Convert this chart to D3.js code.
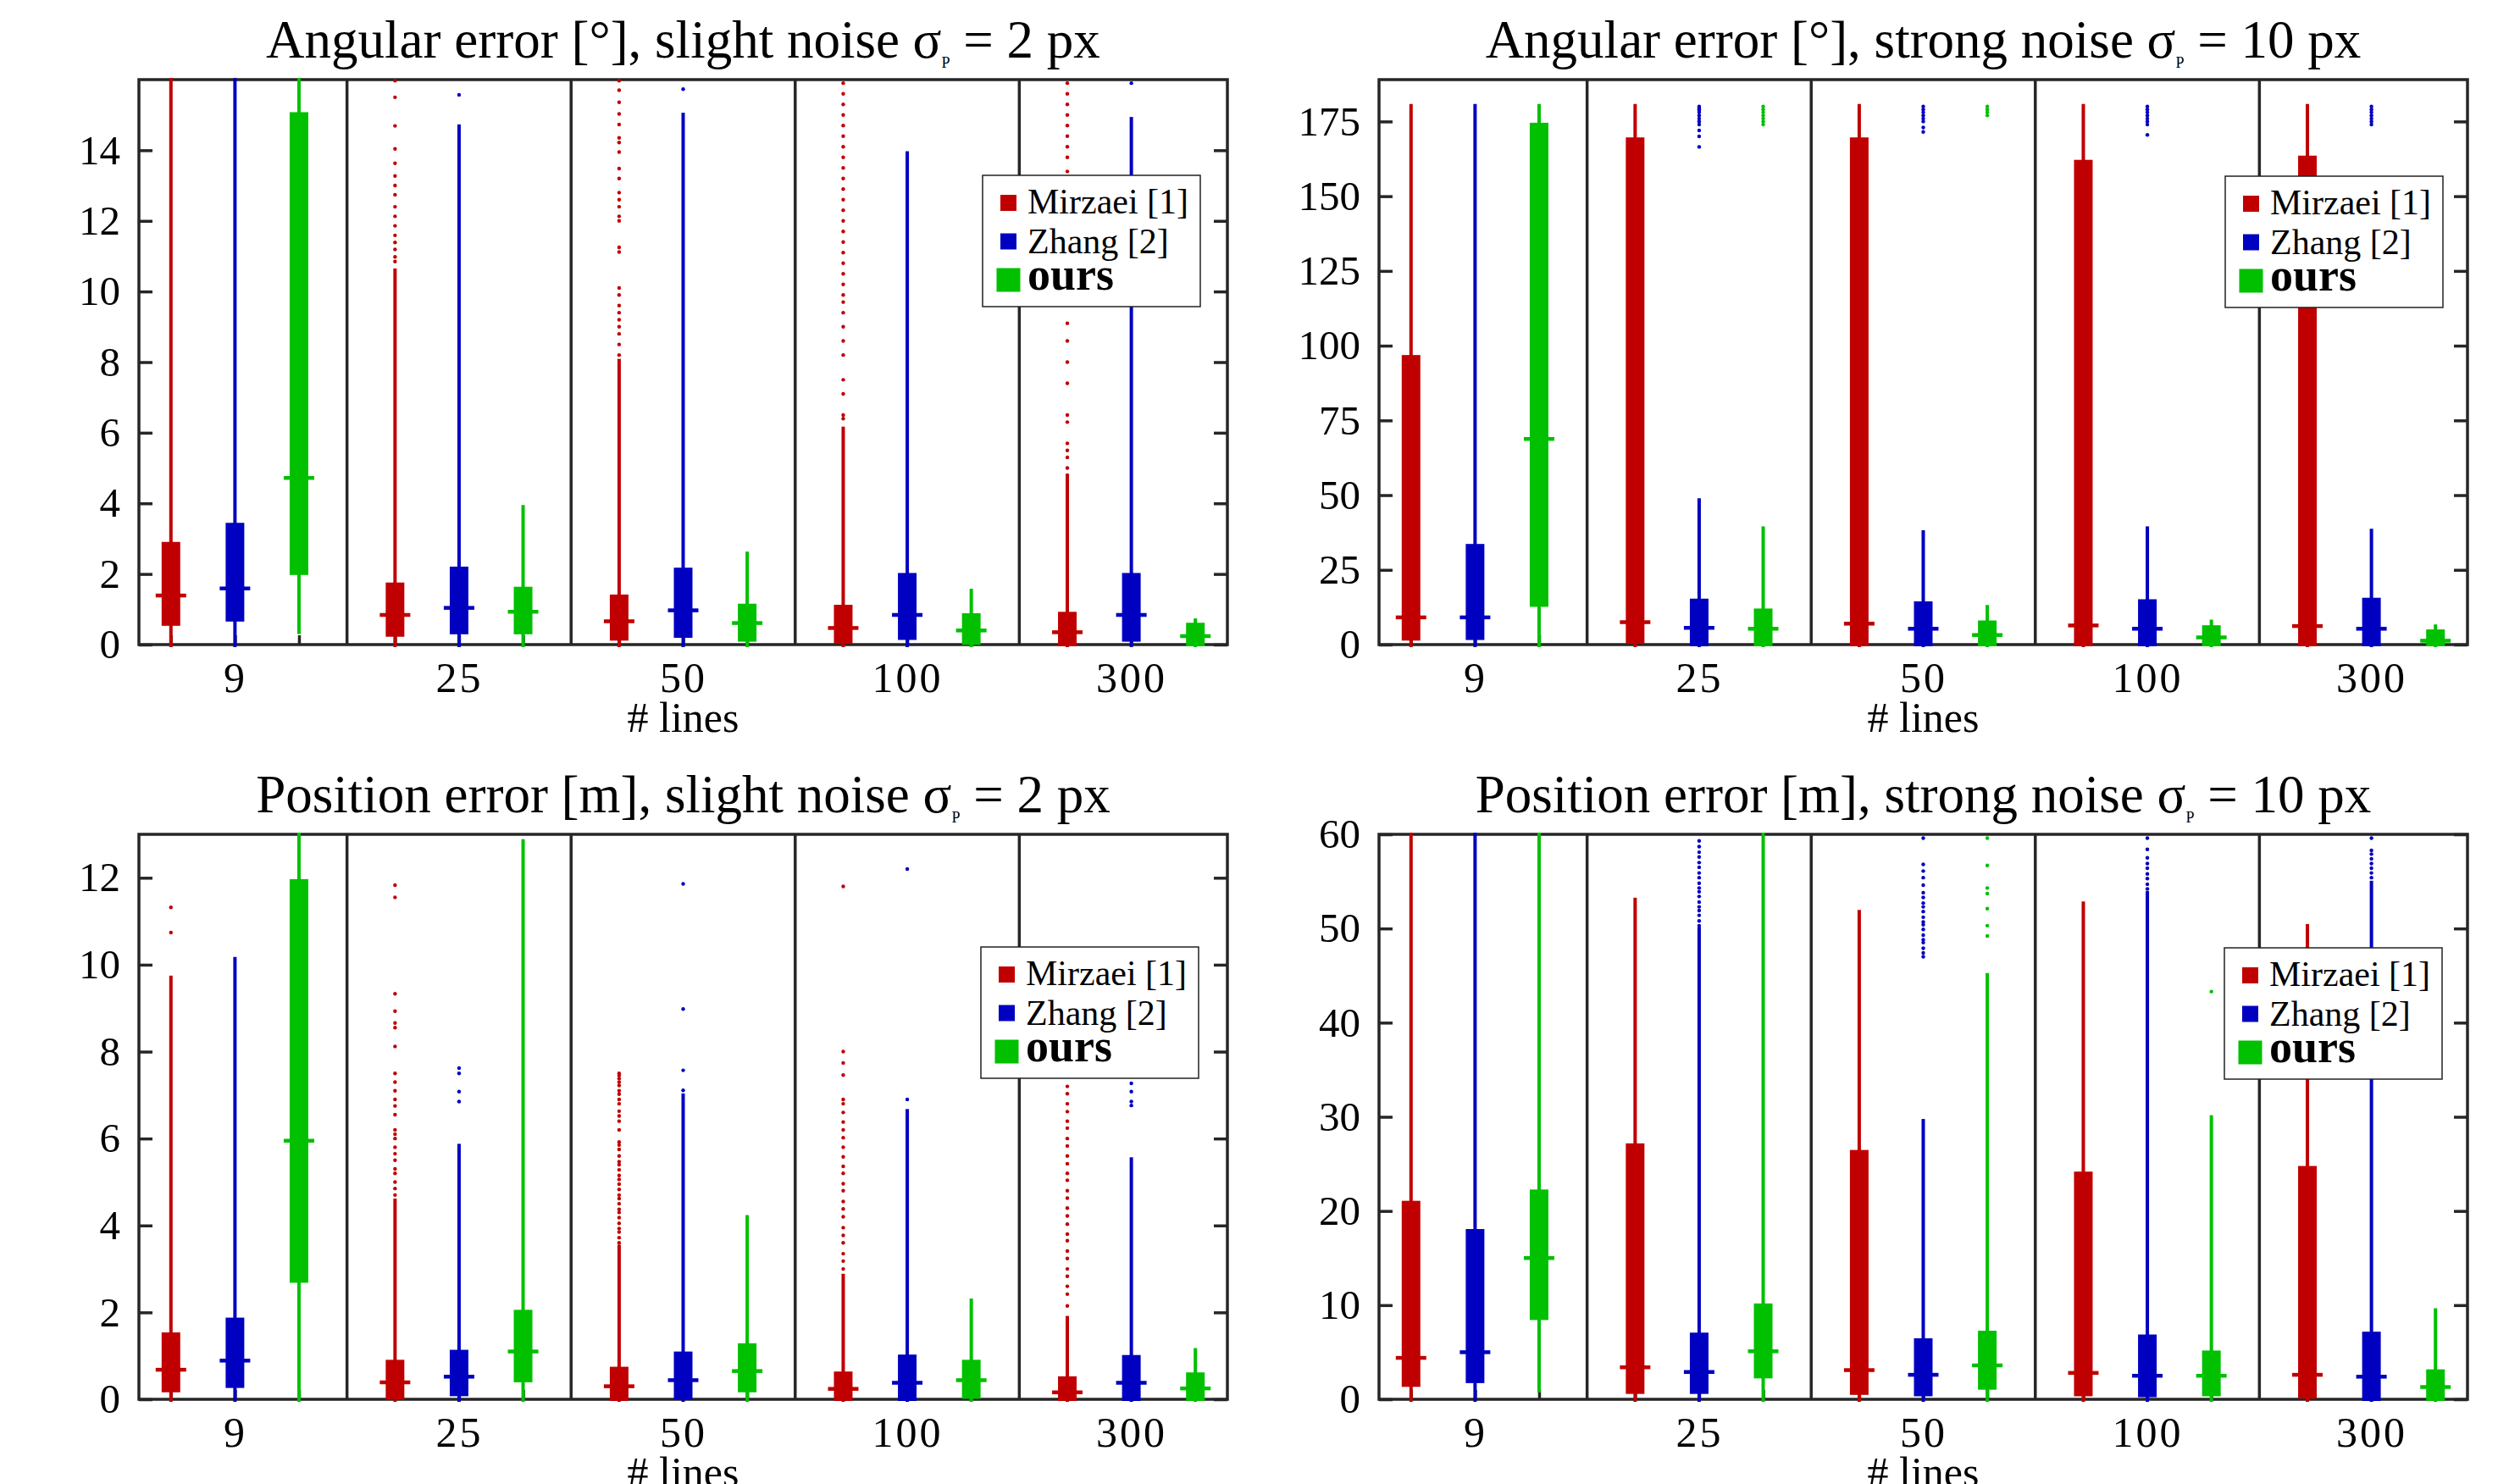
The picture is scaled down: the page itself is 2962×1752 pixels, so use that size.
<!DOCTYPE html>
<html><head><meta charset="utf-8">
<script src="https://cdn.jsdelivr.net/npm/d3@7"></script>
<style>html,body{margin:0;padding:0;background:#fff;} svg{display:block;}</style>
</head><body>
<script>
// ---------------- DATA ----------------
const groupLabels = ["9", "25", "50", "100", "300"];
const methodNames = ["Mirzaei [1]", "Zhang [2]", "ours"];

// each entry: [lower whisker, q1, median, q3, upper whisker] for groups 9,25,50,100,300
const angSlightMirzaei = [[0, 0.58, 1.39, 2.86, 20], [0, 0.27, 0.84, 1.71, 10.58], [0, 0.16, 0.66, 1.37, 8.02], [0, 0.07, 0.47, 1.08, 6.1], [0, 0.0, 0.35, 0.88, 4.74]];
const angSlightZhang   = [[0, 0.70, 1.59, 3.40, 20], [0, 0.34, 1.04, 2.16, 14.66], [0, 0.24, 0.97, 2.13, 14.99], [0, 0.18, 0.84, 1.98, 13.9], [0, 0.13, 0.84, 1.98, 14.87]];
const angSlightOurs    = [[0.37, 2.02, 4.72, 15.03, 20], [0, 0.34, 0.93, 1.59, 3.88], [0, 0.13, 0.61, 1.11, 2.56], [0, 0.04, 0.40, 0.84, 1.51], [0, 0.0, 0.24, 0.57, 0.67]];
const angSlightOutMirzaei = [[], [10.85, 10.98, 11.19, 11.39, 11.59, 11.86, 12.13, 12.4, 12.74, 13.0, 13.27, 13.63, 14.04, 14.69, 15.5, 15.97],
  [8.2, 8.5, 8.8, 9.0, 9.2, 9.4, 9.6, 9.9, 10.1, 11.12, 11.25, 12.0, 12.13, 12.4, 12.6, 12.8, 13.2, 13.48, 13.95, 14.22, 14.35, 14.73, 15.03, 15.36, 15.7, 15.97],
  [6.4, 6.5, 7.1, 7.5, 8.2, 8.6, 9.0, 9.4, 9.7, 9.9, 10.2, 10.5, 10.8, 11.1, 11.4, 11.7, 12.0, 12.3, 12.6, 12.9, 13.2, 13.5, 13.8, 14.1, 14.4, 14.7, 15.0, 15.3, 15.6, 15.9],
  [4.8, 5.0, 5.3, 5.5, 5.7, 6.3, 6.5, 7.4, 8.0, 8.6, 9.1, 10.0, 10.3, 11.0, 11.2, 11.4, 12.3, 12.8, 13.2, 13.4, 13.8, 14.1, 14.4, 14.7, 15.0, 15.3, 15.6, 15.9]];
const angSlightOutZhang = [[], [15.57], [15.73], [], [15.9]];
const angSlightOutOurs = [[], [], [], [], []];
const angSlightTicks = [0, 2, 4, 6, 8, 10, 12, 14];
const angSlightTitle = ["Angular error [°], slight noise σ", "P", " = 2 px"];

const angStrongMirzaei = [[0, 1.9, 9.1, 96.3, 180], [0, 0.8, 7.5, 169.1, 180], [0, 0, 7.0, 169.1, 180], [0, 0, 6.4, 161.6, 180], [0, 0, 6.2, 163, 180]];
const angStrongZhang   = [[0, 2.1, 9.1, 33.1, 180], [0, 0, 5.6, 14.8, 48.1], [0, 0, 5.3, 13.9, 37.4], [0, 0, 5.3, 14.6, 38.7], [0, 0, 5.3, 15.1, 37.9]];
const angStrongOurs    = [[0, 13.2, 68.8, 174, 180], [0, 0, 5.3, 11.5, 38.7], [0, 0, 3.2, 7.5, 12.4], [0, 0, 2.4, 5.9, 7.5], [0, 0, 1.3, 4.5, 5.9]];
const angStrongOutMirzaei = [[], [], [], [], []];
const angStrongOutZhang = [[], [166.5, 170, 172, 174, 175, 176, 177, 178, 178.5, 179, 179.5, 180], [171.5, 173, 175, 176, 177, 178, 179, 180], [170.5, 174, 175, 176, 177, 178, 179, 180], [174, 175, 176, 177, 178, 179, 180]];
const angStrongOutOurs = [[], [174, 175, 176, 177, 178, 179, 180], [177, 178, 179, 180], [], []];
const angStrongTicks = [0, 25, 50, 75, 100, 125, 150, 175];
const angStrongTitle = ["Angular error [°], strong noise σ", "P", " = 10 px"];

const posSlightMirzaei = [[0, 0.20, 0.68, 1.50, 9.69], [0, 0.03, 0.39, 0.87, 4.56], [0, 0, 0.30, 0.71, 3.50], [0, 0, 0.24, 0.60, 2.83], [0, 0, 0.16, 0.49, 1.86]];
const posSlightZhang   = [[0, 0.30, 0.89, 1.84, 10.12], [0, 0.11, 0.52, 1.10, 5.82], [0, 0.03, 0.44, 1.06, 6.98], [0, 0, 0.38, 0.99, 6.62], [0, 0, 0.38, 0.98, 5.51]];
const posSlightOurs    = [[0, 2.72, 5.95, 11.93, 14], [0, 0.43, 1.10, 2.02, 12.83], [0, 0.20, 0.65, 1.25, 4.18], [0, 0.05, 0.44, 0.87, 2.26], [0, 0, 0.25, 0.58, 1.12]];
const posSlightOutMirzaei = [[10.74, 11.32],
  [4.7, 4.85, 5.0, 5.2, 5.3, 5.5, 5.65, 5.8, 6.0, 6.1, 6.2, 6.55, 6.75, 6.9, 7.1, 7.3, 7.5, 8.12, 8.55, 8.66, 8.93, 9.33, 11.55, 11.83],
  [3.6, 3.72, 3.85, 3.93, 4.05, 4.18, 4.3, 4.37, 4.5, 4.62, 4.7, 4.83, 4.95, 5.06, 5.15, 5.28, 5.4, 5.47, 5.6, 5.75, 5.85, 5.92, 6.2, 6.4, 6.52, 6.63, 6.8, 6.9, 7.02, 7.1, 7.22, 7.3, 7.38, 7.45, 7.5],
  [3.0, 3.18, 3.35, 3.6, 3.77, 3.95, 4.2, 4.38, 4.55, 4.8, 4.96, 5.2, 5.36, 5.58, 5.8, 6.02, 6.2, 6.38, 6.6, 6.8, 6.9, 7.46, 7.74, 8.0, 11.8],
  [2.15, 2.42, 2.6, 2.83, 3.0, 3.24, 3.41, 3.65, 3.8, 4.03, 4.22, 4.4, 4.63, 4.8, 5.04, 5.2, 5.42, 5.6, 5.83, 6.0, 6.24, 6.4, 6.62, 6.8, 7.03, 7.2, 7.46]];
const posSlightOutZhang = [[], [6.85, 7.08, 7.50, 7.62], [7.11, 7.57, 8.98, 11.86], [6.9, 12.2], [6.76, 6.85, 7.08, 7.27]];
const posSlightOutOurs = [[], [], [], [], []];
const posSlightTicks = [0, 2, 4, 6, 8, 10, 12];
const posSlightTitle = ["Position error [m], slight noise σ", "P", " = 2 px"];

const posStrongMirzaei = [[0, 1.5, 4.4, 20.9, 70], [0, 0.75, 3.4, 27.0, 53.0], [0, 0.65, 3.1, 26.3, 51.7], [0, 0.5, 2.8, 24.0, 52.6], [0, 0.25, 2.6, 24.6, 50.2]];
const posStrongZhang   = [[0, 1.9, 5.0, 17.9, 70], [0, 0.75, 2.9, 6.9, 49.9], [0, 0.5, 2.6, 6.3, 29.5], [0, 0.4, 2.5, 6.7, 53.7], [0, 0, 2.4, 7.0, 54.8]];
const posStrongOurs    = [[1.0, 8.6, 15.0, 22.1, 70], [0, 2.4, 5.1, 10.0, 70], [0, 1.2, 3.6, 7.1, 45.0], [0, 0.5, 2.5, 5.0, 29.9], [0, 0, 1.3, 3.0, 9.4]];
const posStrongOutMirzaei = [[], [], [], [], []];
const posStrongOutZhang = [[],
  [50.3, 50.8, 51.4, 51.9, 52.3, 52.8, 53.4, 53.9, 54.3, 54.8, 55.4, 55.9, 56.5, 57.0, 57.6, 58.1, 58.7, 59.3],
  [47.0, 47.4, 47.9, 48.5, 48.8, 49.3, 49.9, 50.4, 50.7, 51.2, 51.8, 52.3, 52.7, 53.3, 53.8, 54.6, 55.4, 56.1, 56.8, 59.6],
  [54.2, 54.7, 55.3, 55.8, 56.4, 56.9, 57.5, 58.4, 59.6],
  [55.4, 55.9, 56.4, 56.9, 57.4, 57.9, 58.3, 59.6]];
const posStrongOutOurs = [[], [], [49.2, 50.3, 52.1, 53.7, 54.3, 56.7, 59.6], [43.3], []];
const posStrongTicks = [0, 10, 20, 30, 40, 50, 60];
const posStrongTitle = ["Position error [m], strong noise σ", "P", " = 10 px"];

const xLabel = "# lines";

// ---------------- PANELS ----------------
const panels = [
  {title: angSlightTitle, yMax: 16, ticks: angSlightTicks, stats: [angSlightMirzaei, angSlightZhang, angSlightOurs], out: [angSlightOutMirzaei, angSlightOutZhang, angSlightOutOurs]},
  {title: angStrongTitle, yMax: 189, ticks: angStrongTicks, stats: [angStrongMirzaei, angStrongZhang, angStrongOurs], out: [angStrongOutMirzaei, angStrongOutZhang, angStrongOutOurs]},
  {title: posSlightTitle, yMax: 13, ticks: posSlightTicks, stats: [posSlightMirzaei, posSlightZhang, posSlightOurs], out: [posSlightOutMirzaei, posSlightOutZhang, posSlightOutOurs]},
  {title: posStrongTitle, yMax: 60, ticks: posStrongTicks, stats: [posStrongMirzaei, posStrongZhang, posStrongOurs], out: [posStrongOutMirzaei, posStrongOutZhang, posStrongOutOurs]}
];
const layout = [
  {left: 164, top: 94, right: 1449, bottom: 761, legX: 1160, legY: 207},
  {left: 1628, top: 94, right: 2913, bottom: 761, legX: 2627, legY: 208},
  {left: 164, top: 985, right: 1449, bottom: 1652, legX: 1158, legY: 1118},
  {left: 1628, top: 985, right: 2913, bottom: 1652, legX: 2626, legY: 1119}
];

const W = 2962, H = 1752;
const FONT = "'Liberation Serif','Times New Roman',Times,serif";
const AX = "#262626";
const colors = ["#c00000", "#0000c0", "#00c000"];

const svg = d3.select("body").append("svg").attr("width", W).attr("height", H);
svg.append("rect").attr("width", W).attr("height", H).attr("fill", "#fff");

panels.forEach((p, i) => {
  const L = layout[i];
  const x = d3.scaleLinear().domain([-0.5, 16.5]).range([L.left, L.right]);
  const y = d3.scaleLinear().domain([0, p.yMax]).range([L.bottom, L.top]);
  const g = svg.append("g");
  const pos = (grp, m) => grp * 3.5 + m;

  // frame
  g.append("rect").attr("x", L.left).attr("y", L.top)
    .attr("width", L.right - L.left).attr("height", L.bottom - L.top)
    .attr("fill", "none").attr("stroke", AX).attr("stroke-width", 3.5);

  // left y axis (inward ticks)
  const gl = g.append("g").attr("transform", `translate(${L.left},0)`)
    .call(d3.axisLeft(y).tickValues(p.ticks).tickSize(-16).tickPadding(22).tickFormat(d3.format("d")));
  gl.select(".domain").remove();
  gl.selectAll("line").attr("stroke", AX).attr("stroke-width", 3.5);
  gl.selectAll("text").attr("font-family", FONT).attr("font-size", 49).attr("fill", "#000");

  // right y axis ticks
  const gr = g.append("g").attr("transform", `translate(${L.right},0)`)
    .call(d3.axisRight(y).tickValues(p.ticks).tickSize(-16).tickFormat(""));
  gr.select(".domain").remove();
  gr.selectAll("line").attr("stroke", AX).attr("stroke-width", 3.5);

  // bottom ticks at each box position
  const boxPositions = [];
  groupLabels.forEach((_, gi) => methodNames.forEach((_, m) => boxPositions.push(pos(gi, m))));
  const gb = g.append("g").attr("transform", `translate(0,${L.bottom})`)
    .call(d3.axisBottom(x).tickValues(boxPositions).tickSize(-11).tickFormat(""));
  gb.select(".domain").remove();
  gb.selectAll("line").attr("stroke", AX).attr("stroke-width", 3.5);

  // group labels
  const gg = g.append("g").attr("transform", `translate(0,${L.bottom})`)
    .call(d3.axisBottom(x).tickValues(groupLabels.map((_, gi) => pos(gi, 1))).tickSize(0).tickPadding(20)
      .tickFormat((d, k) => groupLabels[k]));
  gg.select(".domain").remove();
  gg.selectAll("text").attr("font-family", FONT).attr("font-size", 50).attr("fill", "#000").attr("letter-spacing", 3);

  // group separators
  g.selectAll("line.sep").data(groupLabels.slice(0, -1)).join("line").attr("class", "sep")
    .attr("x1", (d, gi) => x(pos(gi, 2.75))).attr("x2", (d, gi) => x(pos(gi, 2.75)))
    .attr("y1", L.top).attr("y2", L.bottom).attr("stroke", AX).attr("stroke-width", 3.5);

  // x label
  g.append("text").attr("x", (L.left + L.right) / 2).attr("y", L.bottom + 103)
    .attr("text-anchor", "middle").attr("font-family", FONT).attr("font-size", 50).attr("fill", "#000").text(xLabel);

  // title
  const t = g.append("text").attr("x", (L.left + L.right) / 2).attr("y", L.top - 26)
    .attr("text-anchor", "middle").attr("font-family", FONT).attr("font-size", 63).attr("fill", "#000");
  t.append("tspan").text(p.title[0]);
  t.append("tspan").attr("font-size", 18).attr("dy", 12).text(p.title[1]);
  t.append("tspan").attr("dy", -12).text(p.title[2]);

  // clip
  const cid = "clip" + i;
  svg.append("clipPath").attr("id", cid).append("rect")
    .attr("x", L.left - 20).attr("y", L.top - 2).attr("width", L.right - L.left + 40).attr("height", L.bottom - L.top + 40);
  const gd = g.append("g").attr("clip-path", `url(#${cid})`);

  p.stats.forEach((series, m) => {
    const col = colors[m];
    const s = gd.append("g");
    // whiskers
    s.selectAll("rect.wh").data(series).join("rect").attr("class", "wh")
      .attr("x", (d, gi) => x(pos(gi, m)) - 2).attr("width", 4)
      .attr("y", d => y(d[4]) - 3).attr("height", d => y(d[0]) - y(d[4]) + 6).attr("fill", col);
    // boxes
    s.selectAll("rect.bx").data(series).join("rect").attr("class", "bx")
      .attr("x", (d, gi) => x(pos(gi, m)) - 11).attr("width", 22)
      .attr("y", d => y(d[3]) - 2).attr("height", d => y(d[1]) - y(d[3]) + 4).attr("fill", col);
    // medians
    s.selectAll("rect.md").data(series).join("rect").attr("class", "md")
      .attr("x", (d, gi) => x(pos(gi, m)) - 18).attr("width", 36)
      .attr("y", d => y(d[2]) - 2.25).attr("height", 4.5).attr("fill", col);
    // outliers
    p.out[m].forEach((vals, gi) => {
      s.selectAll(null).data(vals).join("circle")
        .attr("cx", x(pos(gi, m))).attr("cy", d => y(d)).attr("r", 2.2).attr("fill", col);
    });
  });

  // legend
  const lg = g.append("g").attr("transform", `translate(${L.legX},${L.legY})`);
  lg.append("rect").attr("width", 257).attr("height", 155).attr("fill", "#fff").attr("stroke", "#222").attr("stroke-width", 1.5);
  const rowsY = [45, 92, 135];
  const sq = [19, 19, 28];
  const sqCy = [32.5, 78, 123.5];
  methodNames.forEach((name, m) => {
    lg.append("rect").attr("x", 30.5 - sq[m] / 2).attr("y", sqCy[m] - sq[m] / 2)
      .attr("width", sq[m]).attr("height", sq[m]).attr("fill", colors[m]);
    lg.append("text").attr("x", 53).attr("y", rowsY[m]).attr("font-family", FONT)
      .attr("font-size", m === 2 ? 54 : 42).attr("font-weight", m === 2 ? "bold" : "normal")
      .attr("fill", "#000").text(name);
  });
});
</script>
</body></html>
